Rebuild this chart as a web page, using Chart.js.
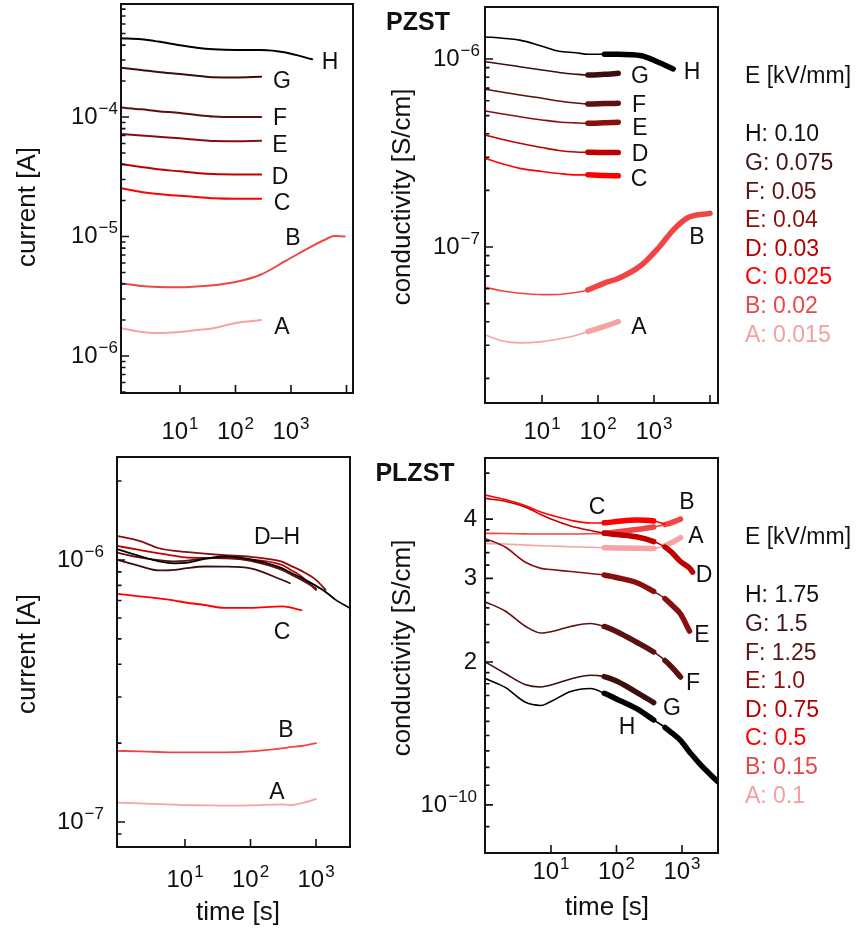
<!DOCTYPE html>
<html>
<head>
<meta charset="utf-8">
<script src="https://cdn.jsdelivr.net/npm/chart.js@4.4.1/dist/chart.umd.min.js"></script>
<style>
  body { margin: 0; background: #fff; }
  #wrap { position: relative; width: 860px; height: 934px; }
  #wrap canvas { position: absolute; left: 0; top: 0; }
</style>
</head>
<body>
<div id="wrap">
  <canvas id="pzstCur" width="860" height="934"></canvas>
  <canvas id="pzstCond" width="860" height="934"></canvas>
  <canvas id="plzstCur" width="860" height="934"></canvas>
  <canvas id="plzstCond" width="860" height="934"></canvas>
</div>
<script>
// ---- data ----
const letters = ['H', 'G', 'F', 'E', 'D', 'C', 'B', 'A'];

// PZST current [A]
const pzstCurT = [0.87, 2, 4, 10, 20, 40, 100, 290, 800, 2400, 4000, 6000, 9300];
const pzstCurH = [4.56e-4, 4.47e-4, 4.28e-4, 3.98e-4, 3.80e-4, 3.69e-4, 3.64e-4, 3.64e-4, 3.47e-4, 3.04e-4];
const pzstCurG = [2.59e-4, 2.48e-4, 2.38e-4, 2.29e-4, 2.22e-4, 2.15e-4, 2.14e-4, 2.17e-4];
const pzstCurF = [1.20e-4, 1.16e-4, 1.12e-4, 1.08e-4, 1.04e-4, 1.01e-4, 1.00e-4, 1.00e-4];
const pzstCurE = [7.20e-5, 7.00e-5, 6.83e-5, 6.63e-5, 6.46e-5, 6.30e-5, 6.28e-5, 6.33e-5];
const pzstCurD = [4.05e-5, 3.82e-5, 3.65e-5, 3.51e-5, 3.40e-5, 3.33e-5, 3.31e-5, 3.31e-5];
const pzstCurC = [2.53e-5, 2.36e-5, 2.27e-5, 2.19e-5, 2.14e-5, 2.09e-5, 2.07e-5, 2.07e-5];
const pzstCurB = [4.06e-6, 3.85e-6, 3.78e-6, 3.76e-6, 3.82e-6, 3.91e-6, 4.16e-6, 4.81e-6, 6.24e-6, 8.32e-6, 9.35e-6, 1.01e-5, 1.00e-5];
const pzstCurA = [1.71e-6, 1.59e-6, 1.56e-6, 1.59e-6, 1.65e-6, 1.71e-6, 1.89e-6, 2.00e-6];

// PZST conductivity [S/cm]
const pzstCondT = [0.97, 2, 4, 10, 20, 40, 66, 130, 230, 600, 1200, 2200, 4000, 10000];
const pzstCondH = [1.31e-6, 1.29e-6, 1.26e-6, 1.17e-6, 1.10e-6, 1.08e-6, 1.06e-6, 1.06e-6, 1.06e-6, 1.04e-6, 9.6e-7, 8.85e-7];
const pzstCondG = [9.67e-7, 9.38e-7, 9.10e-7, 8.74e-7, 8.48e-7, 8.30e-7, 8.22e-7, 8.29e-7, 8.39e-7];
const pzstCondF = [6.90e-7, 6.66e-7, 6.43e-7, 6.18e-7, 5.98e-7, 5.83e-7, 5.76e-7, 5.79e-7, 5.81e-7];
const pzstCondE = [5.29e-7, 5.10e-7, 4.93e-7, 4.74e-7, 4.62e-7, 4.57e-7, 4.55e-7, 4.58e-7, 4.61e-7];
const pzstCondD = [3.94e-7, 3.73e-7, 3.56e-7, 3.38e-7, 3.26e-7, 3.20e-7, 3.19e-7, 3.18e-7, 3.18e-7];
const pzstCondC = [2.96e-7, 2.76e-7, 2.62e-7, 2.52e-7, 2.46e-7, 2.42e-7, 2.42e-7, 2.40e-7, 2.39e-7];
const pzstCondB = [6.10e-8, 5.83e-8, 5.67e-8, 5.58e-8, 5.59e-8, 5.73e-8, 5.91e-8, 6.43e-8, 6.80e-8, 8.02e-8, 9.88e-8, 1.23e-7, 1.43e-7, 1.51e-7];
const pzstCondA = [3.40e-8, 3.16e-8, 3.09e-8, 3.14e-8, 3.24e-8, 3.38e-8, 3.55e-8, 3.78e-8, 4.01e-8];

// PLZST current [A]
const plzstCurT = [0.92, 2, 4, 7, 10, 20, 40, 100, 300, 400, 600, 1000, 1400, 2000, 3300];
const plzstCurH = [1.099e-6, 1.036e-6, 0.987e-6, 0.970e-6, 0.974e-6, 1.009e-6, 1.031e-6, 1.004e-6, 0.930e-6, 0.897e-6, 0.854e-6, 0.796e-6, 0.755e-6, 0.704e-6, 0.654e-6];
const plzstCurG = [1.000e-6, 0.949e-6, 0.912e-6, 0.916e-6, 0.928e-6, 0.944e-6, 0.943e-6, 0.928e-6, 0.840e-6, 0.815e-6];
const plzstCurF = [1.066e-6, 1.022e-6, 0.998e-6, 0.987e-6, 0.991e-6, 1.013e-6, 1.019e-6, 0.991e-6, 0.916e-6, 0.884e-6, 0.839e-6, 0.778e-6];
const plzstCurE = [1.235e-6, 1.182e-6, 1.108e-6, 1.082e-6, 1.073e-6, 1.056e-6, 1.042e-6, 1.028e-6, 0.985e-6, 0.953e-6, 0.908e-6, 0.839e-6, 0.768e-6];
const plzstCurD = [1.131e-6, 1.092e-6, 1.059e-6, 1.036e-6, 1.022e-6, 1.018e-6, 1.013e-6, 1.004e-6, 0.957e-6, 0.920e-6, 0.865e-6, 0.768e-6];
const plzstCurC = [7.42e-7, 7.26e-7, 7.13e-7, 7.00e-7, 6.88e-7, 6.73e-7, 6.56e-7, 6.56e-7, 6.65e-7, 6.59e-7, 6.42e-7];
const plzstCurB = [1.87e-7, 1.86e-7, 1.85e-7, 1.845e-7, 1.845e-7, 1.845e-7, 1.845e-7, 1.86e-7, 1.91e-7, 1.93e-7, 1.95e-7, 2.00e-7];
const plzstCurA = [1.185e-7, 1.177e-7, 1.170e-7, 1.165e-7, 1.161e-7, 1.158e-7, 1.155e-7, 1.157e-7, 1.168e-7, 1.161e-7, 1.180e-7, 1.222e-7];

// PLZST conductivity [S/cm]
const plzstCondT = [0.98, 2, 4, 7, 10, 20, 40, 65, 100, 200, 370, 550, 700, 950, 1300, 1450, 2000, 3500];
const plzstCondH = [1.848e-10, 1.768e-10, 1.647e-10, 1.620e-10, 1.652e-10, 1.734e-10, 1.759e-10, 1.719e-10, 1.672e-10, 1.597e-10, 1.510e-10, 1.456e-10, 1.418e-10, 1.368e-10, 1.293e-10, 1.271e-10, 1.208e-10, 1.120e-10];
const plzstCondG = [2.003e-10, 1.891e-10, 1.794e-10, 1.772e-10, 1.789e-10, 1.842e-10, 1.876e-10, 1.863e-10, 1.824e-10, 1.729e-10, 1.643e-10];
const plzstCondF = [2.679e-10, 2.561e-10, 2.382e-10, 2.302e-10, 2.317e-10, 2.376e-10, 2.411e-10, 2.376e-10, 2.319e-10, 2.204e-10, 2.100e-10, 2.015e-10, 1.952e-10, 1.860e-10];
const plzstCondE = [3.643e-10, 3.493e-10, 3.248e-10, 3.150e-10, 3.132e-10, 3.102e-10, 3.072e-10, 3.050e-10, 3.013e-10, 2.941e-10, 2.816e-10, 2.721e-10, 2.637e-10, 2.524e-10, 2.324e-10];
const plzstCondD = [4.424e-10, 4.362e-10, 4.241e-10, 4.089e-10, 4.000e-10, 3.868e-10, 3.784e-10, 3.738e-10, 3.711e-10, 3.671e-10, 3.587e-10, 3.493e-10, 3.401e-10, 3.256e-10, 3.155e-10, 3.094e-10];
const plzstCondC = [4.494e-10, 4.398e-10, 4.271e-10, 4.139e-10, 4.078e-10, 3.977e-10, 3.924e-10, 3.929e-10, 3.952e-10, 3.981e-10, 3.962e-10, 3.905e-10];
const plzstCondB = [3.733e-10, 3.729e-10, 3.724e-10, 3.720e-10, 3.720e-10, 3.720e-10, 3.726e-10, 3.733e-10, 3.756e-10, 3.802e-10, 3.851e-10, 3.894e-10, 3.932e-10, 4.000e-10];
const plzstCondA = [3.556e-10, 3.544e-10, 3.527e-10, 3.515e-10, 3.510e-10, 3.499e-10, 3.489e-10, 3.481e-10, 3.476e-10, 3.472e-10, 3.470e-10, 3.518e-10, 3.570e-10, 3.657e-10];

// legend values
const pzstFields = ['0.10', '0.075', '0.05', '0.04', '0.03', '0.025', '0.02', '0.015'];
const plzstFields = ['1.75', '1.5', '1.25', '1.0', '0.75', '0.5', '0.15', '0.1'];

// tick values
const timeTicksLong = [10, 100, 1000, 10000];
const timeTicksShort = [10, 100, 1000];
const timeTickLabels = ['1', '2', '3'];
const plzstCondMinor = [0.9e-10, 1.1e-10, 1.2e-10, 1.3e-10, 1.4e-10, 1.5e-10, 1.6e-10, 1.7e-10, 1.8e-10, 1.9e-10,
  2.2e-10, 2.4e-10, 2.6e-10, 2.8e-10, 3.2e-10, 3.4e-10, 3.6e-10, 3.8e-10, 5e-10];

// ---- styling ----
const FONT = '"Liberation Sans", Arial, Helvetica, sans-serif';
const colors = { H: '#000000', G: '#3d0e0e', F: '#5c1010', E: '#8b0e0e', D: '#c00000', C: '#ff0000', B: '#f04545', A: '#f5a3a3' };
const textColors = { H: '#111111', G: '#3c1616', F: '#5a1515', E: '#8a1010', D: '#b40000', C: '#ff0000', B: '#e84848', A: '#f2a0a0' };

function logMinorTicks(min, max) {
  const out = [];
  for (let n = Math.floor(Math.log10(min)); n <= Math.ceil(Math.log10(max)); n++) {
    for (let k = 1; k <= 9; k++) {
      const v = k * Math.pow(10, n);
      if (v >= min && v <= max) out.push({ v, major: k === 1 });
    }
  }
  return out;
}

function power(ctx, base, exp, x, y, align) {
  ctx.font = '24px ' + FONT;
  const wb = ctx.measureText(base).width;
  ctx.font = '17px ' + FONT;
  const we = exp ? ctx.measureText(exp).width + 1 : 0;
  const x0 = align === 'right' ? x - wb - we : x - (wb + we) / 2;
  ctx.textAlign = 'left';
  ctx.textBaseline = 'middle';
  ctx.font = '24px ' + FONT;
  ctx.fillText(base, x0, y);
  if (exp) {
    ctx.font = '17px ' + FONT;
    ctx.fillText(exp, x0 + wb + 1, y - 8);
  }
}

function text(ctx, s, x, y, color, font, align, rot) {
  ctx.save();
  ctx.fillStyle = color || '#111';
  ctx.font = font || ('23px ' + FONT);
  ctx.textAlign = align || 'left';
  ctx.textBaseline = 'middle';
  ctx.translate(x, y);
  if (rot) ctx.rotate(-Math.PI / 2);
  ctx.fillText(s, 0, 0);
  ctx.restore();
}

function axesPlugin(p) {
  return {
    id: 'axes',
    afterDraw(chart) {
      const ctx = chart.ctx, a = chart.chartArea;
      const xs = chart.scales.x, ys = chart.scales.y;
      ctx.save();
      ctx.strokeStyle = '#111';
      ctx.lineWidth = 2;
      ctx.strokeRect(a.left, a.top, a.right - a.left, a.bottom - a.top);
      ctx.lineWidth = 1.6;
      ctx.beginPath();
      p.yTicks.forEach(t => {
        const py = ys.getPixelForValue(t.v);
        ctx.moveTo(a.left, py);
        ctx.lineTo(a.left + (t.major ? 8 : 4.5), py);
      });
      p.xTicks.forEach(v => {
        const px = xs.getPixelForValue(v);
        ctx.moveTo(px, a.bottom);
        ctx.lineTo(px, a.bottom - 8);
      });
      ctx.stroke();
      ctx.fillStyle = '#111';
      p.yLabels.forEach(l => power(ctx, l.base, l.exp, p.yLabelRight, ys.getPixelForValue(l.v), 'right'));
      timeTicksShort.forEach((v, i) => power(ctx, '10', timeTickLabels[i], xs.getPixelForValue(v), p.xLabelY, 'center'));
      p.texts.forEach(t => text(ctx, t[0], t[1], t[2], t[3], t[4], t[5], t[6]));
      ctx.restore();
    }
  };
}

function makePanel(id, p) {
  const datasets = letters.map((name, k) => ({
    label: name,
    data: p.values[k].map((v, i) => ({ x: p.times[i], y: v })),
    borderColor: colors[name],
    borderWidth: p.thin,
    borderCapStyle: 'round',
    borderJoinStyle: 'round',
    pointRadius: 0,
    cubicInterpolationMode: 'monotone',
    segment: {
      borderWidth: c => (p.thick && p.thick(name, p.times[c.p0DataIndex])) ? p.thickWidth : p.thin
    }
  }));
  return new Chart(document.getElementById(id), {
    type: 'line',
    data: { datasets },
    options: {
      responsive: false,
      animation: false,
      devicePixelRatio: 1,
      events: [],
      layout: { padding: { left: p.box[0], top: p.box[1], right: 860 - p.box[2], bottom: 934 - p.box[3] } },
      plugins: { legend: { display: false }, tooltip: { enabled: false } },
      scales: {
        x: { type: 'logarithmic', display: false, bounds: 'data', min: p.x[0], max: p.x[1] },
        y: { type: 'logarithmic', display: false, bounds: 'data', min: p.y[0], max: p.y[1] }
      }
    },
    plugins: [axesPlugin(p)]
  });
}

const lbl = '23px ' + FONT;
const title = '26px ' + FONT;
const bold = 'bold 25px ' + FONT;

function legend(x, y0, fields, head) {
  const out = [['E [kV/mm]', x, head, '#111', lbl]];
  letters.forEach((n, i) => out.push([n + ': ' + fields[i], x, y0 + i * 28.6, textColors[n], lbl]));
  return out;
}

// ---- PZST current ----
makePanel('pzstCur', {
  box: [121, 4, 353, 393], x: [0.865, 13100], y: [4.9e-7, 8.83e-4],
  times: pzstCurT,
  values: [pzstCurH, pzstCurG, pzstCurF, pzstCurE, pzstCurD, pzstCurC, pzstCurB, pzstCurA],
  thin: 2,
  yTicks: logMinorTicks(4.9e-7, 8.83e-4), xTicks: timeTicksLong,
  yLabels: [{ v: 1e-6, base: '10', exp: '\u22126' }, { v: 1e-5, base: '10', exp: '\u22125' }, { v: 1e-4, base: '10', exp: '\u22124' }],
  yLabelRight: 118, xLabelY: 432,
  texts: [
    ['H', 330, 63, '#111', lbl, 'center'], ['G', 282, 82, '#111', lbl, 'center'],
    ['F', 280, 119, '#111', lbl, 'center'], ['E', 280, 146, '#111', lbl, 'center'],
    ['D', 280, 178, '#111', lbl, 'center'], ['C', 282, 204, '#111', lbl, 'center'],
    ['B', 293, 239, '#111', lbl, 'center'], ['A', 282, 328, '#111', lbl, 'center'],
    ['current [A]', 28, 207, '#111', title, 'center', true]
  ]
});

// ---- PZST conductivity ----
makePanel('pzstCond', {
  box: [485, 7, 718, 403], x: [0.959, 13900], y: [1.48e-8, 1.89e-6],
  times: pzstCondT,
  values: [pzstCondH, pzstCondG, pzstCondF, pzstCondE, pzstCondD, pzstCondC, pzstCondB, pzstCondA],
  thin: 1.6, thickWidth: 5.5,
  thick: (n, t) => t >= (n === 'H' ? 130 : 66),
  yTicks: logMinorTicks(1.48e-8, 1.89e-6), xTicks: timeTicksLong,
  yLabels: [{ v: 1e-7, base: '10', exp: '\u22127' }, { v: 1e-6, base: '10', exp: '\u22126' }],
  yLabelRight: 480, xLabelY: 432,
  texts: [
    ['PZST', 418, 23, '#111', bold, 'center'],
    ['H', 692, 73, '#111', lbl, 'center'], ['G', 640, 77, '#111', lbl, 'center'],
    ['F', 639, 106, '#111', lbl, 'center'], ['E', 640, 129, '#111', lbl, 'center'],
    ['D', 640, 155, '#111', lbl, 'center'], ['C', 639, 180, '#111', lbl, 'center'],
    ['B', 697, 238, '#111', lbl, 'center'], ['A', 639, 328, '#111', lbl, 'center'],
    ['conductivity [S/cm]', 403, 197, '#111', title, 'center', true]
  ].concat(legend(745, 135, pzstFields, 77))
});

// ---- PLZST current ----
makePanel('plzstCur', {
  box: [117, 457, 350, 847], x: [0.916, 3300], y: [8.03e-8, 2.47e-6],
  times: plzstCurT,
  values: [plzstCurH, plzstCurG, plzstCurF, plzstCurE, plzstCurD, plzstCurC, plzstCurB, plzstCurA],
  thin: 1.8,
  yTicks: logMinorTicks(8.03e-8, 2.47e-6), xTicks: timeTicksShort,
  yLabels: [{ v: 1e-7, base: '10', exp: '\u22127' }, { v: 1e-6, base: '10', exp: '\u22126' }],
  yLabelRight: 104, xLabelY: 880,
  texts: [
    ['D\u2013H', 277, 538, '#111', lbl, 'center'], ['C', 282, 633, '#111', lbl, 'center'],
    ['B', 286, 731, '#111', lbl, 'center'], ['A', 277, 793, '#111', lbl, 'center'],
    ['current [A]', 28, 654, '#111', title, 'center', true],
    ['time [s]', 238, 913, '#111', title, 'center']
  ]
});

// ---- PLZST conductivity ----
makePanel('plzstCond', {
  box: [485, 458, 718, 853], x: [0.983, 3548], y: [7.92e-11, 5.38e-10],
  times: plzstCondT,
  values: [plzstCondH, plzstCondG, plzstCondF, plzstCondE, plzstCondD, plzstCondC, plzstCondB, plzstCondA],
  thin: 1.6, thickWidth: 5.5,
  thick: (n, t) => (t >= 65 && t < 370) || t >= 550,
  yTicks: plzstCondMinor.map(v => ({ v, major: false })).concat([1e-10, 2e-10, 3e-10, 4e-10].map(v => ({ v, major: true }))),
  xTicks: timeTicksShort,
  yLabels: [{ v: 1e-10, base: '10', exp: '\u221210' }, { v: 2e-10, base: '2' }, { v: 3e-10, base: '3' }, { v: 4e-10, base: '4' }],
  yLabelRight: 477, xLabelY: 872,
  texts: [
    ['PLZST', 415, 474, '#111', bold, 'center'],
    ['C', 597, 508, '#111', lbl, 'center'], ['B', 687, 503, '#111', lbl, 'center'],
    ['A', 696, 537, '#111', lbl, 'center'], ['D', 704, 576, '#111', lbl, 'center'],
    ['E', 702, 636, '#111', lbl, 'center'], ['F', 693, 684, '#111', lbl, 'center'],
    ['G', 672, 709, '#111', lbl, 'center'], ['H', 627, 728, '#111', lbl, 'center'],
    ['conductivity [S/cm]', 403, 648, '#111', title, 'center', true],
    ['time [s]', 607, 908, '#111', title, 'center']
  ].concat(legend(745, 596, plzstFields, 538))
});
</script>
</body>
</html>
